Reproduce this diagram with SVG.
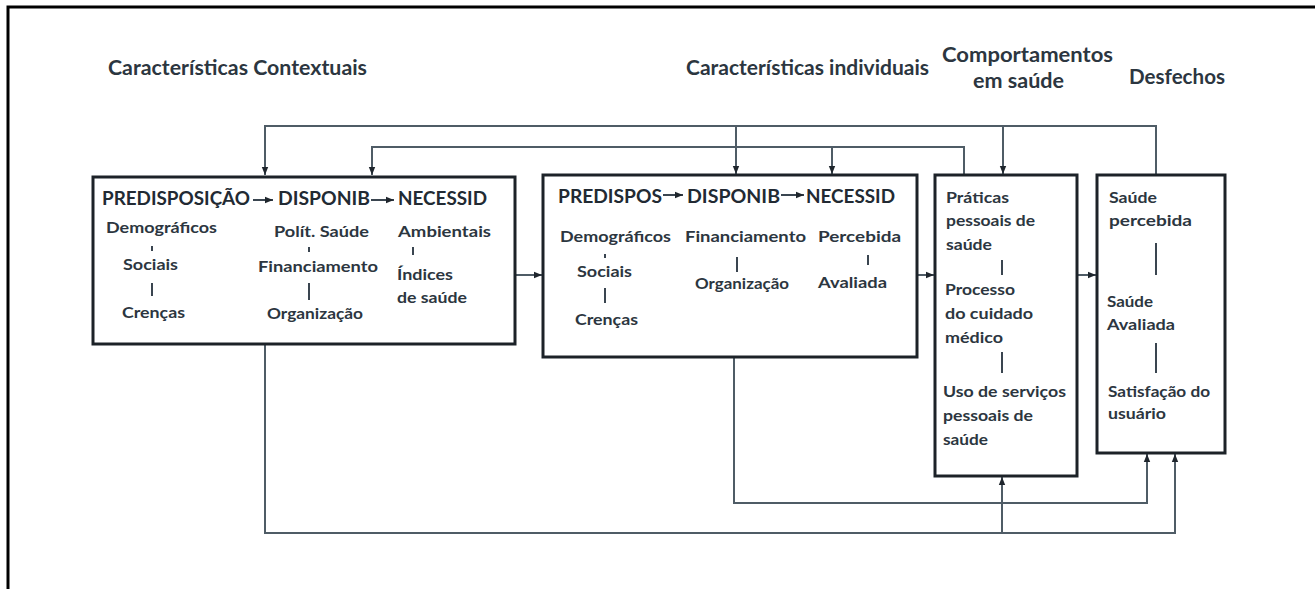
<svg xmlns="http://www.w3.org/2000/svg" width="1315" height="589" viewBox="0 0 1315 589">
<defs>
<style>
text{font-family:Lato,"Open Sans","Liberation Sans",sans-serif;font-weight:700;fill:#2c3640}
.h{font-size:20px}
.bh{font-size:19px;fill:#222a33}
.b{font-size:16px}
.box{fill:#fff;stroke:#1c2228;stroke-width:3}
.c{fill:none;stroke:#4f5c66;stroke-width:2}
.sep{stroke:#3a4550;stroke-width:2}
</style>
<marker id="ah" markerUnits="userSpaceOnUse" markerWidth="8" markerHeight="8" viewBox="0 0 8 8" refX="8" refY="4" orient="auto">
<path d="M0,0.8 L8,4 L0,7.2 z" fill="#1f262d"/>
</marker>
</defs>
<rect width="1315" height="589" fill="#fff"/>
<path d="M8,589 V7 H1315" fill="none" stroke="#000" stroke-width="3"/>

<g id="labels">
<text class="h" x="108" y="75" textLength="259" lengthAdjust="spacingAndGlyphs">Características Contextuais</text>
<text class="h" x="686" y="75" textLength="243" lengthAdjust="spacingAndGlyphs">Características individuais</text>
<text class="h" x="942" y="62" textLength="171" lengthAdjust="spacingAndGlyphs">Comportamentos</text>
<text class="h" x="973" y="88" textLength="91" lengthAdjust="spacingAndGlyphs">em saúde</text>
<text class="h" x="1129" y="84" textLength="96" lengthAdjust="spacingAndGlyphs">Desfechos</text>
</g>

<g id="connectors">
<path class="c" d="M1156,175 V126 H265 V175" marker-end="url(#ah)"/>
<path class="c" d="M736,126 V174" marker-end="url(#ah)"/>
<path class="c" d="M1003,126 V174" marker-end="url(#ah)"/>
<path class="c" d="M964,175 V147 H372 V175" marker-end="url(#ah)"/>
<path class="c" d="M832,147 V174" marker-end="url(#ah)"/>
<path class="c" d="M515,275 H542" marker-end="url(#ah)"/>
<path class="c" d="M917,275 H934" marker-end="url(#ah)"/>
<path class="c" d="M1077,275 H1096" marker-end="url(#ah)"/>
<path class="c" d="M265,344 V533 H1175 V454" marker-end="url(#ah)"/>
<path class="c" d="M1002,533 V477" marker-end="url(#ah)"/>
<path class="c" d="M734,357 V503 H1147 V454" marker-end="url(#ah)"/>
</g>

<g id="contextuais">
<rect class="box" x="93" y="177" width="422" height="167"/>
<text class="bh" x="102" y="205" textLength="148" lengthAdjust="spacingAndGlyphs">PREDISPOSIÇÃO</text>
<path class="sep" d="M253,200 H273" marker-end="url(#ah)"/>
<text class="bh" x="278" y="205" textLength="92" lengthAdjust="spacingAndGlyphs">DISPONIB</text>
<path class="sep" d="M371,200 H394" marker-end="url(#ah)"/>
<text class="bh" x="398" y="205" textLength="89" lengthAdjust="spacingAndGlyphs">NECESSID</text>
<text class="b" x="106" y="233" textLength="111" lengthAdjust="spacingAndGlyphs">Demográficos</text>
<line class="sep" x1="152" y1="246" x2="152" y2="251"/>
<text class="b" x="123" y="270" textLength="55" lengthAdjust="spacingAndGlyphs">Sociais</text>
<line class="sep" x1="152" y1="283" x2="152" y2="296"/>
<text class="b" x="122" y="318" textLength="63" lengthAdjust="spacingAndGlyphs">Crenças</text>
<text class="b" x="274" y="237" textLength="95" lengthAdjust="spacingAndGlyphs">Polít. Saúde</text>
<line class="sep" x1="309" y1="247" x2="309" y2="252"/>
<text class="b" x="258" y="272" textLength="120" lengthAdjust="spacingAndGlyphs">Financiamento</text>
<line class="sep" x1="309" y1="283" x2="309" y2="300"/>
<text class="b" x="267" y="319" textLength="96" lengthAdjust="spacingAndGlyphs">Organização</text>
<text class="b" x="398" y="237" textLength="93" lengthAdjust="spacingAndGlyphs">Ambientais</text>
<line class="sep" x1="413" y1="247" x2="413" y2="255"/>
<text class="b" x="397" y="280" textLength="56" lengthAdjust="spacingAndGlyphs">Índices</text>
<text class="b" x="397" y="303" textLength="70" lengthAdjust="spacingAndGlyphs">de saúde</text>
</g>

<g id="individuais">
<rect class="box" x="543" y="175" width="374" height="182"/>
<text class="bh" x="558" y="203" textLength="104" lengthAdjust="spacingAndGlyphs">PREDISPOS</text>
<path class="sep" d="M663,195 H683" marker-end="url(#ah)"/>
<text class="bh" x="687" y="203" textLength="93" lengthAdjust="spacingAndGlyphs">DISPONIB</text>
<path class="sep" d="M781,195 H804" marker-end="url(#ah)"/>
<text class="bh" x="806" y="203" textLength="89" lengthAdjust="spacingAndGlyphs">NECESSID</text>
<text class="b" x="560" y="242" textLength="111" lengthAdjust="spacingAndGlyphs">Demográficos</text>
<line class="sep" x1="605" y1="254" x2="605" y2="258"/>
<text class="b" x="577" y="277" textLength="55" lengthAdjust="spacingAndGlyphs">Sociais</text>
<line class="sep" x1="605" y1="288" x2="605" y2="303"/>
<text class="b" x="575" y="325" textLength="63" lengthAdjust="spacingAndGlyphs">Crenças</text>
<text class="b" x="685" y="242" textLength="121" lengthAdjust="spacingAndGlyphs">Financiamento</text>
<line class="sep" x1="737" y1="257" x2="737" y2="272"/>
<text class="b" x="695" y="289" textLength="94" lengthAdjust="spacingAndGlyphs">Organização</text>
<text class="b" x="818" y="242" textLength="83" lengthAdjust="spacingAndGlyphs">Percebida</text>
<line class="sep" x1="868" y1="255" x2="868" y2="265"/>
<text class="b" x="818" y="288" textLength="69" lengthAdjust="spacingAndGlyphs">Avaliada</text>
</g>

<g id="comportamentos">
<rect class="box" x="935" y="175" width="142" height="301"/>
<text class="b" x="946" y="203" textLength="63" lengthAdjust="spacingAndGlyphs">Práticas</text>
<text class="b" x="946" y="226" textLength="89" lengthAdjust="spacingAndGlyphs">pessoais de</text>
<text class="b" x="946" y="250" textLength="46" lengthAdjust="spacingAndGlyphs">saúde</text>
<line class="sep" x1="1002" y1="260" x2="1002" y2="275"/>
<text class="b" x="945" y="295" textLength="70" lengthAdjust="spacingAndGlyphs">Processo</text>
<text class="b" x="945" y="319" textLength="88" lengthAdjust="spacingAndGlyphs">do cuidado</text>
<text class="b" x="945" y="343" textLength="58" lengthAdjust="spacingAndGlyphs">médico</text>
<line class="sep" x1="1002" y1="352" x2="1002" y2="373"/>
<text class="b" x="943" y="397" textLength="123" lengthAdjust="spacingAndGlyphs">Uso de serviços</text>
<text class="b" x="943" y="421" textLength="90" lengthAdjust="spacingAndGlyphs">pessoais de</text>
<text class="b" x="943" y="445" textLength="45" lengthAdjust="spacingAndGlyphs">saúde</text>
</g>

<g id="desfechos">
<rect class="box" x="1097" y="175" width="128" height="278"/>
<text class="b" x="1109" y="203" textLength="48" lengthAdjust="spacingAndGlyphs">Saúde</text>
<text class="b" x="1109" y="226" textLength="83" lengthAdjust="spacingAndGlyphs">percebida</text>
<line class="sep" x1="1156" y1="243" x2="1156" y2="275"/>
<text class="b" x="1107" y="307" textLength="46" lengthAdjust="spacingAndGlyphs">Saúde</text>
<text class="b" x="1107" y="330" textLength="68" lengthAdjust="spacingAndGlyphs">Avaliada</text>
<line class="sep" x1="1156" y1="343" x2="1156" y2="373"/>
<text class="b" x="1108" y="397" textLength="102" lengthAdjust="spacingAndGlyphs">Satisfação do</text>
<text class="b" x="1108" y="419" textLength="58" lengthAdjust="spacingAndGlyphs">usuário</text>
</g>
</svg>
